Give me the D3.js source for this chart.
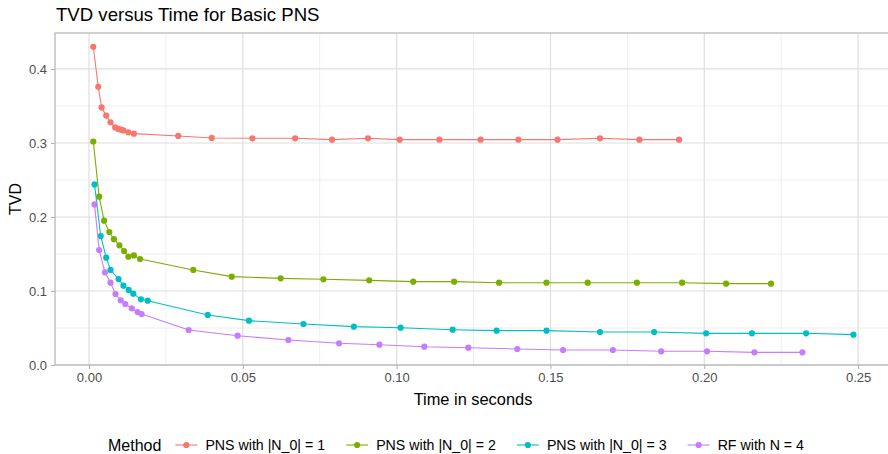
<!DOCTYPE html>
<html><head><meta charset="utf-8">
<script src="https://cdn.jsdelivr.net/npm/d3@7"></script>
<style>body{margin:0;background:#fff;overflow:hidden} text{font-family:"Liberation Sans",Arial,sans-serif}</style>
</head><body><svg id="c" width="888" height="454"></svg>
<script>
const seriesNames = ["PNS with |N_0| = 1", "PNS with |N_0| = 2", "PNS with |N_0| = 3", "RF with N = 4"];
const seriesColors = ["#F8766D", "#7CAE00", "#00BFC4", "#C77CFF"];

const time1 = [0.0014,0.0030,0.0041,0.0056,0.0070,0.0085,0.0095,0.0104,0.0112,0.0128,0.0146,0.0290,0.0399,0.0531,0.0670,0.0790,0.0907,0.1010,0.1139,0.1273,0.1396,0.1523,0.1661,0.1789,0.1918];
const tvd1  = [0.430,0.376,0.348,0.337,0.328,0.321,0.319,0.318,0.317,0.3144,0.3126,0.3095,0.3068,0.3063,0.3063,0.3045,0.3063,0.3045,0.3045,0.3045,0.3045,0.3045,0.3063,0.3045,0.3045];

const time2 = [0.0014,0.0033,0.0049,0.0066,0.0081,0.0099,0.0114,0.0128,0.0146,0.0166,0.0339,0.0464,0.0623,0.0762,0.0911,0.1054,0.1187,0.1333,0.1487,0.1621,0.1781,0.1928,0.2071,0.2217];
const tvd2  = [0.302,0.2275,0.195,0.1797,0.170,0.1617,0.154,0.1464,0.148,0.1432,0.1284,0.1194,0.1171,0.1158,0.1144,0.1126,0.1126,0.1112,0.1112,0.1112,0.1112,0.1112,0.1099,0.1099];

const time3 = [0.0018,0.0038,0.0056,0.0070,0.0096,0.0112,0.0129,0.0144,0.0169,0.0191,0.0386,0.0520,0.0697,0.0861,0.1013,0.1182,0.1325,0.1487,0.1661,0.1837,0.2006,0.2155,0.2331,0.2485];
const tvd3  = [0.244,0.1743,0.145,0.1284,0.1162,0.1072,0.1014,0.0964,0.0887,0.0869,0.0676,0.0599,0.0554,0.0518,0.0504,0.0477,0.0464,0.0464,0.0446,0.0446,0.0428,0.0428,0.0428,0.041];

const time4 = [0.0018,0.0033,0.0052,0.0070,0.0086,0.0103,0.0118,0.0139,0.0158,0.0171,0.0324,0.0483,0.0648,0.0813,0.0944,0.1090,0.1233,0.1392,0.1541,0.1703,0.1860,0.2009,0.2163,0.2319];
const tvd4  = [0.217,0.1554,0.1252,0.1113,0.0959,0.0874,0.0824,0.0766,0.0716,0.0689,0.0473,0.0396,0.0338,0.0293,0.0274,0.0247,0.0234,0.0216,0.0203,0.0203,0.0185,0.0185,0.0171,0.0171];

const xTicks = [0, 0.05, 0.10, 0.15, 0.20, 0.25];
const xMinor = [0.025, 0.075, 0.125, 0.175, 0.225];
const yTicks = [0, 0.1, 0.2, 0.3, 0.4];
const yMinor = [0.05, 0.15, 0.25, 0.35];

const chartTitle = "TVD versus Time for Basic PNS";
const xTitle = "Time in seconds";
const yTitle = "TVD";
const legendTitle = "Method";

const series = [
  {name: seriesNames[0], color: seriesColors[0], t: time1, v: tvd1},
  {name: seriesNames[1], color: seriesColors[1], t: time2, v: tvd2},
  {name: seriesNames[2], color: seriesColors[2], t: time3, v: tvd3},
  {name: seriesNames[3], color: seriesColors[3], t: time4, v: tvd4}
];

const svg = d3.select("#c");
const L = 55, R = 891, T = 33, B = 365;
const x = d3.scaleLinear().domain([-0.01105, 0.2607]).range([L, R]);
const y = d3.scaleLinear().domain([0, 0.4486]).range([B, T]);

const grid = svg.append("g");
grid.selectAll(".xm").data(xMinor).enter().append("line")
  .attr("x1", d => x(d)).attr("x2", d => x(d)).attr("y1", T).attr("y2", B)
  .attr("stroke", "#E3E3E3").attr("stroke-width", 0.6);
grid.selectAll(".ym").data(yMinor).enter().append("line")
  .attr("x1", L).attr("x2", R).attr("y1", d => y(d)).attr("y2", d => y(d))
  .attr("stroke", "#E3E3E3").attr("stroke-width", 0.6);
grid.selectAll(".xM").data(xTicks).enter().append("line")
  .attr("x1", d => x(d)).attr("x2", d => x(d)).attr("y1", T).attr("y2", B)
  .attr("stroke", "#DEDEDE").attr("stroke-width", 1.2);
grid.selectAll(".yM").data(yTicks).enter().append("line")
  .attr("x1", L).attr("x2", R).attr("y1", d => y(d)).attr("y2", d => y(d))
  .attr("stroke", "#DEDEDE").attr("stroke-width", 1.2);

// axes
const xAxis = d3.axisBottom(x).tickValues(xTicks).tickFormat(d3.format(".2f")).tickSize(4).tickPadding(4);
const yAxis = d3.axisLeft(y).tickValues(yTicks).tickFormat(d3.format(".1f")).tickSize(4).tickPadding(4);
const gx = svg.append("g").attr("transform", `translate(0,${B})`).call(xAxis);
const gy = svg.append("g").attr("transform", `translate(${L},0)`).call(yAxis);
[gx, gy].forEach(g => {
  g.select(".domain").remove();
  g.selectAll(".tick line").attr("stroke", "#B3B3B3").attr("stroke-width", 1.1);
  g.selectAll(".tick text").attr("fill", "#4D4D4D").style("font-size", "13px")
    .style("font-family", '"Liberation Sans",Arial,sans-serif');
});

// border
svg.append("rect").attr("x", L).attr("y", T).attr("width", R - L).attr("height", B - T)
  .attr("fill", "none").attr("stroke", "#B3B3B3").attr("stroke-width", 1.2);

// series
const line = d3.line().x(d => x(d[0])).y(d => y(d[1]));
series.forEach(s => {
  const pts = s.t.map((t, i) => [t, s.v[i]]);
  svg.append("path").datum(pts).attr("d", line).attr("fill", "none")
    .attr("stroke", s.color).attr("stroke-width", 1.1);
  svg.append("g").selectAll("circle").data(pts).enter().append("circle")
    .attr("cx", d => x(d[0])).attr("cy", d => y(d[1])).attr("r", 3.1).attr("fill", s.color);
});

// titles
svg.append("text").attr("x", 56).attr("y", 21).text(chartTitle)
  .style("font-size", "18.6px").attr("fill", "#000");
svg.append("text").attr("x", (L + R) / 2).attr("y", 405).attr("text-anchor", "middle")
  .text(xTitle).style("font-size", "16.4px").attr("fill", "#000");
svg.append("text").attr("transform", `translate(21,${(T + B) / 2}) rotate(-90)`)
  .attr("text-anchor", "middle").text(yTitle).style("font-size", "16px").attr("fill", "#000");

// legend
const ly = 445;
const lg = svg.append("g");
const lt = lg.append("text").attr("x", 108).attr("y", ly + 5.5).text(legendTitle)
  .style("font-size", "16px").attr("fill", "#000");
let cx = 108 + lt.node().getComputedTextLength() + 14;
series.forEach(s => {
  lg.append("line").attr("x1", cx).attr("x2", cx + 22).attr("y1", ly).attr("y2", ly)
    .attr("stroke", s.color).attr("stroke-width", 1.1);
  lg.append("circle").attr("cx", cx + 11).attr("cy", ly).attr("r", 3.1).attr("fill", s.color);
  const t = lg.append("text").attr("x", cx + 30).attr("y", ly + 5).text(s.name)
    .style("font-size", "14.2px").attr("fill", "#000");
  cx = cx + 30 + t.node().getComputedTextLength() + 21;
});
</script></body></html>
